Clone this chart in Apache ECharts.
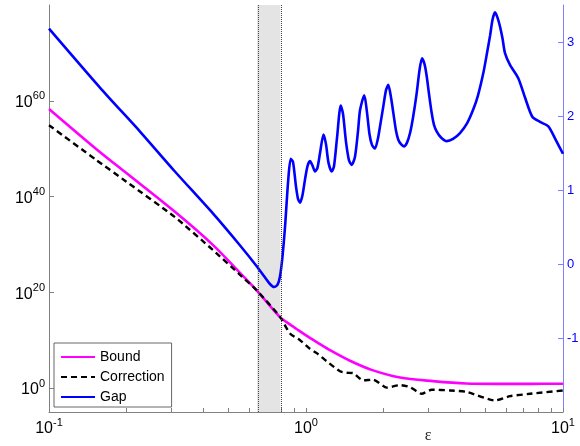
<!DOCTYPE html>
<html>
<head>
<meta charset="utf-8">
<script src="https://cdn.jsdelivr.net/npm/echarts@6/dist/echarts.min.js"></script>
<style>
html,body{margin:0;padding:0;background:#fff;}
#chart{width:580px;height:446px;}
</style>
</head>
<body>
<div id="chart"></div>
<script>
// ---- data ----
const seriesNames = ['Bound', 'Correction', 'Gap'];

const boundEps = [0.1, 0.153, 0.2, 0.309, 0.436, 0.55, 0.643, 0.792, 0.866, 0.933, 1.0, 1.101, 1.25, 1.483, 1.8, 2.322, 3.12, 4.196, 5.5, 7.5, 10];
const boundVal = [2.0e58, 7.9e49, 7.9e44, 6.3e36, 6.3e29, 1.6e24, 2.5e20, 6.3e14, 2.0e13, 1.26e12, 1.0e11, 4.0e9, 6.3e7, 5.0e5, 6.3e3, 158, 28, 8.9, 7.6, 7.6, 7.9];

const corrEps = [0.1, 0.153, 0.2, 0.309, 0.435, 0.55, 0.643, 0.792, 0.866, 0.948, 1.036, 1.101, 1.204, 1.356, 1.439, 1.528, 1.671, 1.827, 2.061, 2.322, 2.54, 2.818, 3.083, 3.634, 4.22, 5.438, 6.22, 7.44, 10];
const corrVal = [7.9e54, 4.0e47, 1.26e43, 5.0e35, 6.3e28, 6.3e23, 2.5e20, 7.9e14, 2.5e11, 1.0e10, 1.6e8, 2.0e7, 4.0e5, 3.2e3, 1.6e3, 1.26e3, 40, 56, 1.26, 4.0, 1.6, 0.063, 0.45, 0.32, 0.16, 0.0025, 0.02, 0.063, 0.32];

const gapEps = [0.100,0.160,0.226,0.309,0.435,0.554,0.643,0.692,0.724,0.751,0.775,0.792,0.810,0.829,0.853,0.872,0.890,0.914,0.931,0.948,0.969,0.991,1.013,1.036,1.060,1.084,1.108,1.134,1.170,1.196,1.223,1.259,1.285,1.320,1.365,1.393,1.431,1.470,1.506,1.551,1.594,1.623,1.686,1.727,1.767,1.806,1.855,1.906,1.941,1.999,2.048,2.090,2.142,2.187,2.240,2.286,2.342,2.406,2.472,2.540,2.609,2.696,2.765,2.828,2.892,2.948,3.010,3.084,3.148,3.227,3.352,3.528,3.733,3.974,4.232,4.477,4.670,4.897,5.062,5.200,5.318,5.438,5.561,5.686,5.815,5.947,6.220,6.699,7.114,7.595,8.137,8.768,9.393,10];
const gapVal = [3.18,2.36,1.79,1.25,0.68,0.25,-0.03,-0.18,-0.27,-0.31,-0.28,-0.17,0.10,0.51,1.14,1.42,1.38,1.05,0.88,0.83,0.93,1.14,1.32,1.39,1.33,1.25,1.30,1.50,1.75,1.62,1.37,1.25,1.32,1.70,2.14,2.03,1.65,1.40,1.34,1.45,1.80,2.08,2.28,2.05,1.75,1.61,1.56,1.70,1.86,2.13,2.35,2.42,2.25,2.04,1.80,1.68,1.62,1.59,1.64,1.77,1.98,2.31,2.62,2.78,2.70,2.54,2.30,2.04,1.88,1.79,1.71,1.66,1.69,1.77,1.90,2.09,2.28,2.58,2.85,3.08,3.30,3.40,3.33,3.21,3.05,2.85,2.69,2.51,2.25,1.99,1.92,1.86,1.67,1.49];

const bandRange = [0.645, 0.795];

const xLabelTicks = [0.1, 1, 10];
const xMinorTicks = [0.1,0.2,0.3,0.4,0.5,0.6,0.7,0.8,0.9,1,2,3,4,5,6,7,8,9,10];
const leftTicks = [1, 1e20, 1e40, 1e60];
const rightTicks = [-1, 0, 1, 2, 3];

// ---- helpers ----
const zip = (xs, ys) => xs.map((x, i) => [x, ys[i]]);
const FONT = 'Liberation Sans, Arial, sans-serif';
const powLabel = v => '{b|10}{s|' + Math.round(Math.log10(v)) + '}';
const powRich = {
  b: { fontSize: 16, lineHeight: 20, verticalAlign: 'bottom', color: '#000', fontFamily: FONT },
  s: { fontSize: 11, lineHeight: 11, verticalAlign: 'top', color: '#000', fontFamily: FONT }
};

const chart = echarts.init(document.getElementById('chart'), null, { renderer: 'canvas' });
chart.setOption({
  animation: false,
  backgroundColor: '#fff',
  grid: { left: 49, right: 17, top: 5, bottom: 34, containLabel: false, outerBoundsMode: 'none' },
  legend: {
    orient: 'vertical',
    left: 54, top: 343,
    padding: [7, 7, 3, 6],
    itemWidth: 34, itemHeight: 14, itemGap: 6,
    backgroundColor: '#fff',
    borderColor: '#666', borderWidth: 1, borderRadius: 0,
    selectedMode: false,
    itemStyle: { color: 'rgba(0,0,0,0)', borderWidth: 0, opacity: 0 },
    textStyle: { fontSize: 14, fontFamily: FONT, color: '#000' },
    data: seriesNames
  },
  xAxis: {
    type: 'log', logBase: 10, min: 0.1, max: 10,
    name: 'ε', nameLocation: 'middle', nameGap: 16, nameMoveOverlap: false,
    nameTextStyle: { fontSize: 16, fontFamily: 'Liberation Serif, serif', color: '#222', padding: [0, 0, 0, 244] },
    axisLine: { onZero: false, lineStyle: { color: '#808080', width: 1 } },
    axisTick: { inside: true, length: 4, customValues: xMinorTicks, lineStyle: { color: '#808080' } },
    axisLabel: { customValues: xLabelTicks, margin: 5, formatter: powLabel, rich: powRich, showMinLabel: true, showMaxLabel: true },
    splitLine: { show: false },
    minorTick: { show: false }
  },
  yAxis: [
    {
      type: 'log', logBase: 10, min: 1e-5, max: 1e80,
      axisLine: { show: true, onZero: false, lineStyle: { color: '#808080', width: 1 } },
      axisTick: { show: true, inside: true, length: 5, customValues: leftTicks, lineStyle: { color: '#808080' } },
      axisLabel: { customValues: leftTicks, margin: 4, formatter: powLabel, rich: powRich },
      splitLine: { show: false }
    },
    {
      type: 'value', min: -2, max: 3.5, position: 'right',
      axisLine: { show: true, onZero: false, lineStyle: { color: '#8080ff', width: 1 } },
      axisTick: { show: true, inside: true, length: 5, customValues: rightTicks, lineStyle: { color: '#8080ff' } },
      axisLabel: { customValues: rightTicks, margin: 4, color: '#0000ff', fontSize: 13, fontFamily: FONT },
      splitLine: { show: false }
    }
  ],
  series: [
    {
      name: 'Bound', type: 'line', yAxisIndex: 0, symbol: 'none', smooth: 0.3,
      lineStyle: { color: '#ff00ff', width: 2.6 }, itemStyle: { color: '#ff00ff' },
      data: zip(boundEps, boundVal),
      markArea: {
        silent: true,
        itemStyle: { color: '#e4e4e4', borderWidth: 0 },
        data: [[{ xAxis: bandRange[0] }, { xAxis: bandRange[1] }]]
      },
      markLine: {
        silent: true, symbol: 'none', label: { show: false },
        lineStyle: { color: '#444', type: 'dotted', width: 1 },
        data: [{ xAxis: bandRange[0] }, { xAxis: bandRange[1] }]
      }
    },
    {
      name: 'Correction', type: 'line', yAxisIndex: 0, symbol: 'none', smooth: 0.2,
      lineStyle: { color: '#000', width: 2.4, type: [6, 4] }, itemStyle: { color: '#000' },
      data: zip(corrEps, corrVal)
    },
    {
      name: 'Gap', type: 'line', yAxisIndex: 1, symbol: 'none', smooth: 0.25,
      lineStyle: { color: '#0000ff', width: 2.6 }, itemStyle: { color: '#0000ff' },
      data: zip(gapEps, gapVal)
    }
  ]
});
</script>
</body>
</html>
